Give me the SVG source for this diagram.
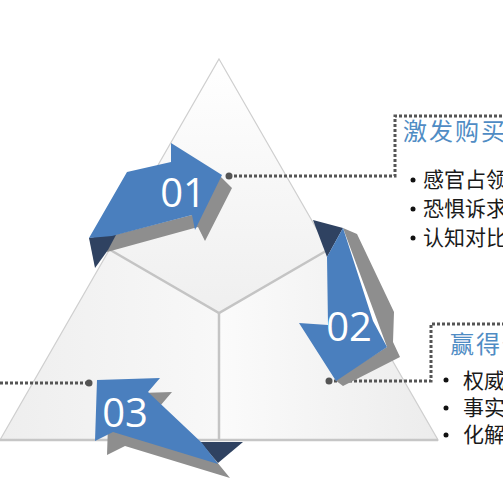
<svg xmlns="http://www.w3.org/2000/svg" width="503" height="504" viewBox="0 0 503 504">
<defs>
<linearGradient id="gTop" x1="0" y1="0" x2="0" y2="1"><stop offset="0" stop-color="#ffffff"/><stop offset="1" stop-color="#efefef"/></linearGradient>
<linearGradient id="gLeft" x1="0" y1="0" x2="1" y2="0"><stop offset="0" stop-color="#eeeeee"/><stop offset="1" stop-color="#f8f8f8"/></linearGradient>
<linearGradient id="gRight" x1="0" y1="0" x2="1" y2="0"><stop offset="0" stop-color="#fbfbfb"/><stop offset="1" stop-color="#ececec"/></linearGradient>
<style>
.edge{fill:none;stroke:#cfcfcf;stroke-width:1.2}
.inner{fill:none;stroke:#c4c4c4;stroke-width:2.5}
.blue{fill:#4a7fbe}
.navy{fill:#2f4261}
.shadow{fill:#8e8e8e}
.num{font-family:"Open Sans","Noto Sans",sans-serif;font-size:40px;fill:#ffffff;text-anchor:middle}
.dots{fill:none;stroke:#555555;stroke-width:3;stroke-dasharray:3 2}
.dot{fill:#555555}
.title{font-family:"Microsoft YaHei","Noto Sans CJK SC",sans-serif;font-size:24px;fill:#4f8cc4;letter-spacing:2px}
.item{font-family:"Microsoft YaHei","Noto Sans CJK SC",sans-serif;font-size:21px;fill:#1a1a1a}
.bullet{fill:#111111}
</style>
</defs>
<rect width="503" height="504" fill="#ffffff"/>
<g id="pyramid">
<polygon points="219,59 328.5,249.5 219,313 109.5,249.5" fill="url(#gTop)"/>
<polygon points="109.5,249.5 219,313 219,440 0,440" fill="url(#gLeft)"/>
<polygon points="328.5,249.5 438,440 219,440 219,313" fill="url(#gRight)"/>
<polygon class="edge" points="219,59 438,440 0,440"/>
<line x1="0" y1="440" x2="438" y2="440" stroke="#c6c6c6" stroke-width="2.5"/>
<polyline class="inner" points="109.5,249.5 219,313 328.5,249.5"/>
<line class="inner" x1="219" y1="313" x2="219" y2="440"/>
</g>
<g id="connectors">
<circle class="dot" cx="229" cy="176" r="3.5"/>
<polyline class="dots" points="229,176 395,176 395,116 503,116"/>
<circle class="dot" cx="329" cy="381" r="3.5"/>
<polyline class="dots" points="329,381 431,381 431,324 503,324"/>
<circle class="dot" cx="89" cy="383" r="3.5"/>
<line class="dots" x1="0" y1="383" x2="89" y2="383"/>
</g>
<g id="arrow01">
<polygon class="shadow" points="110,236 192,215 220,176 232,188 205,241 198,227 107,252"/>
<polygon class="navy" points="89,238 117,233 108,250 95,268"/>
<polygon class="blue" points="89,238 127,172 171,162 171,143 222,175 195,230 192,215 112,236"/>
<text class="num" x="183" y="207">01</text>
</g>
<g id="arrow02">
<polygon class="shadow" points="343,228 357,234 394,312 393,342 400,357 343,386 335,380 387,347"/>
<polygon class="navy" points="313,220 343,228 327,257"/>
<polygon class="blue" points="343,228 373,321 387,347 336,381 299,323 328,325 327,257"/>
<text class="num" x="349" y="341">02</text>
</g>
<g id="arrow03">
<polygon class="shadow" points="109,394 172,392 160,406 212,456 230,478 125,446 107,455"/>
<polygon class="navy" points="200,442 243,442 218,463"/>
<polygon class="blue" points="97,380 160,378 148,392 202,443 218,464 113,432 95,441"/>
<text class="num" x="125" y="427">03</text>
</g>
<g id="callout1">
<text class="title" x="403" y="140">激发购买</text>
<circle class="bullet" cx="413" cy="180" r="2.5"/>
<text class="item" x="423" y="187">感官占领</text>
<circle class="bullet" cx="413" cy="209" r="2.5"/>
<text class="item" x="423" y="216">恐惧诉求</text>
<circle class="bullet" cx="413" cy="238" r="2.5"/>
<text class="item" x="423" y="245">认知对比</text>
</g>
<g id="callout2">
<text class="title" x="450" y="353">赢得信任</text>
<circle class="bullet" cx="446" cy="380" r="2.5"/>
<text class="item" x="463" y="388">权威</text>
<circle class="bullet" cx="446" cy="408" r="2.5"/>
<text class="item" x="463" y="415">事实</text>
<circle class="bullet" cx="446" cy="435" r="2.5"/>
<text class="item" x="463" y="442">化解</text>
</g>
</svg>
